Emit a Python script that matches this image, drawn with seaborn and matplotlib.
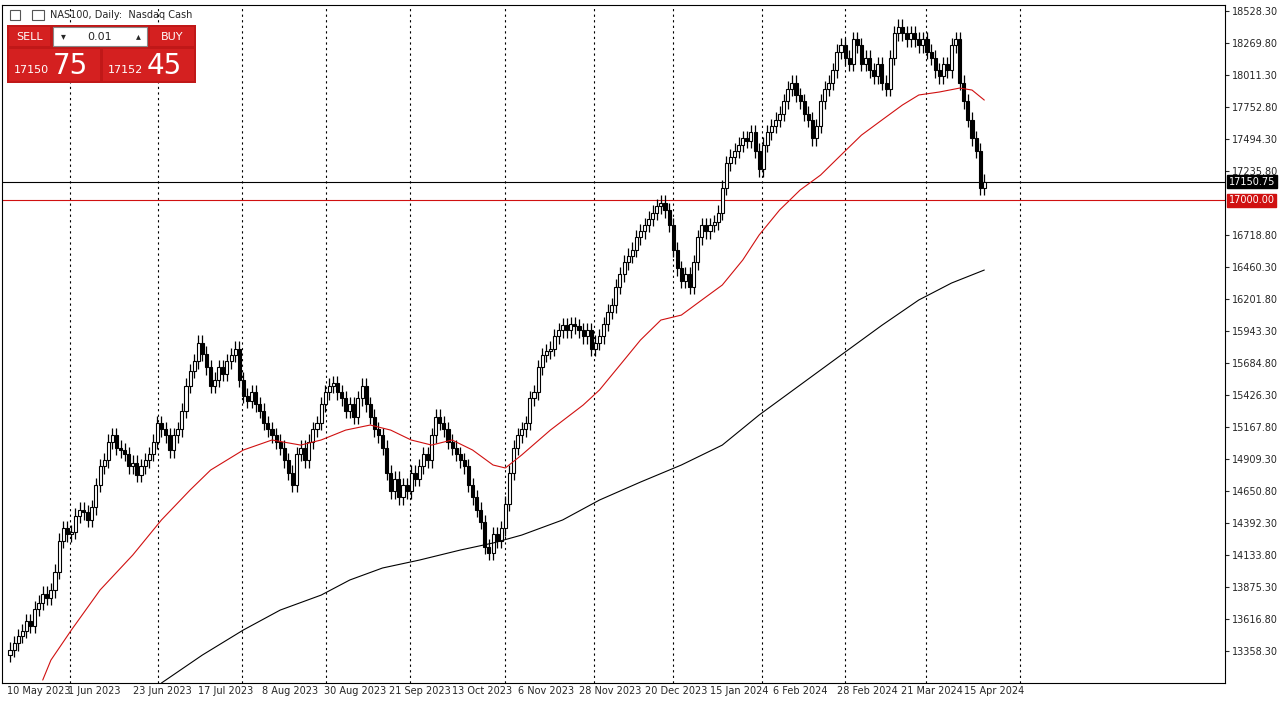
import numpy as np
import matplotlib
matplotlib.use("Agg")
import matplotlib.pyplot as plt
from matplotlib.patches import Rectangle
import seaborn as sns

closes = [13370,13420,13480,13520,13600,13560,13700,13750,13820,13790,
13850,14000,14250,14350,14300,14320,14450,14500,14480,14420,
14520,14700,14850,14900,15050,15100,15000,14980,14950,14850,
14880,14780,14850,14900,14950,15050,15200,15150,15100,14980,
15100,15150,15300,15500,15620,15700,15850,15760,15650,15500,
15550,15650,15600,15700,15750,15800,15550,15420,15380,15450,
15350,15300,15200,15150,15100,15050,15000,14900,14800,14700,
14950,15000,14900,15050,15150,15200,15350,15450,15500,15520,
15450,15400,15300,15350,15250,15400,15500,15350,15250,15150,
15100,15000,14800,14650,14750,14600,14700,14650,14800,14750,
14850,14950,14900,15100,15250,15200,15150,15050,15000,14950,
14900,14850,14700,14600,14500,14400,14200,14150,14300,14250,
14350,14550,14800,15000,15100,15150,15200,15400,15450,15650,
15750,15780,15800,15900,15950,15990,15950,16000,15980,15950,
15900,15950,15800,15850,15900,16000,16100,16150,16300,16400,
16500,16550,16600,16700,16750,16800,16850,16900,16950,16980,
16920,16800,16600,16450,16350,16400,16300,16500,16700,16800,
16750,16800,16820,16900,17100,17300,17350,17400,17450,17500,
17480,17550,17400,17250,17450,17550,17600,17650,17700,17800,
17900,17950,17850,17800,17700,17650,17500,17600,17800,17900,
17950,18050,18200,18250,18150,18100,18300,18250,18100,18150,
18050,18000,18100,17950,17900,18150,18350,18400,18350,18300,
18350,18300,18250,18300,18200,18150,18050,18000,18100,18050,
18250,18300,17950,17800,17650,17500,17400,17100,17150.75]
first_open = 13330

ma_red_idx = [8,10,15,22,30,37,44,49,57,64,71,76,82,88,93,98,103,108,113,118,121,125,132,140,144,149,154,159,164,169,174,179,183,188,193,198,203,208,213,218,222,227,232,235,238]
ma_red_val = [13124,13285,13528,13851,14134,14417,14659,14820,14982,15063,15022,15063,15143,15184,15143,15063,15022,15063,14982,14861,14837,14942,15143,15345,15467,15668,15870,16032,16072,16194,16315,16517,16719,16921,17082,17203,17365,17526,17648,17769,17850,17874,17906,17890,17809]
ma_blk_idx = [37,47,57,66,76,83,91,100,110,118,125,135,144,154,164,174,183,193,203,213,222,230,238]
ma_blk_val = [13100,13326,13528,13689,13810,13932,14029,14093,14174,14231,14295,14417,14578,14723,14861,15022,15265,15507,15749,15990,16194,16331,16436]

yticks = [18528.30,18269.80,18011.30,17752.80,17494.30,17235.80,16718.80,16460.30,16201.80,15943.30,15684.80,15426.30,15167.80,14909.30,14650.80,14392.30,14133.80,13875.30,13616.80,13358.30]
date_labels = ["10 May 2023","1 Jun 2023","23 Jun 2023","17 Jul 2023","8 Aug 2023","30 Aug 2023","21 Sep 2023","13 Oct 2023","6 Nov 2023","28 Nov 2023","20 Dec 2023","15 Jan 2024","6 Feb 2024","28 Feb 2024","21 Mar 2024","15 Apr 2024"]
date_idx = [-0.8,14.1,30,45.9,61.5,76.8,92.7,108,124,139,155,171,186.5,202,217.6,233]
month_sep_idx = [14.6,36.1,56.6,77.1,97.8,121,142.7,162,183.7,204,223.7,246.8]
bid, ask = 17150.75, 17152.45
level = 17000.00

sns.set_style("white")
plt.rcParams['font.family'] = ['DejaVu Sans']
W, H = 1285, 706
fig = plt.figure(figsize=(W/100, H/100), dpi=100)
ax = fig.add_axes([2/W, 1-683/H, 1223/W, 678/H])

opens = [first_open] + closes[:-1]
wick = 60
for i, (o, c) in enumerate(zip(opens, closes)):
    lo, hi = min(o, c), max(o, c)
    ax.vlines(i, lo - wick, hi + wick, color='black', lw=0.9, zorder=3)
    ax.bar(i, max(hi - lo, 4), bottom=lo, width=0.75,
           color='white' if c >= o else 'black', edgecolor='black', lw=0.8, zorder=4)

sns.lineplot(x=ma_red_idx, y=ma_red_val, ax=ax, color='#d01010', lw=0.8, zorder=5)
sns.lineplot(x=ma_blk_idx, y=ma_blk_val, ax=ax, color='black', lw=0.8, zorder=5)

for m in month_sep_idx:
    ax.axvline(m, color='black', lw=0.8, ls=(0, (2, 3)), zorder=1)
ax.axhline(bid, color='black', lw=0.8, zorder=2)
ax.axhline(level, color='#d01010', lw=0.8, zorder=2)

ax.set_xlim(-1.95, 296.8)
ax.set_ylim(13100, 18577)
ax.yaxis.tick_right()
ax.set_yticks(yticks)
ax.set_yticklabels([f"{v:.2f}" for v in yticks], fontsize=7)
ax.tick_params(axis='y', length=3, pad=2)
ax.set_xticks([])
for s in ax.spines.values():
    s.set_color('black'); s.set_linewidth(0.8)
for lab, ix in zip(date_labels, date_idx):
    ax.text(ix, -0.005, lab, transform=ax.get_xaxis_transform(), ha='left', va='top', fontsize=7)

ax.text(1.003, bid, f"{bid:.2f}", transform=ax.get_yaxis_transform(), va='center', ha='left',
        fontsize=7, color='white', bbox=dict(boxstyle='square,pad=0.15', fc='black', ec='black'))
ax.text(1.003, level, f"{level:.2f}", transform=ax.get_yaxis_transform(), va='center', ha='left',
        fontsize=7, color='white', bbox=dict(boxstyle='square,pad=0.15', fc='#d01010', ec='#d01010'))

def rect(x0, y0, x1, y1, fc, ec='none'):
    fig.add_artist(Rectangle((x0/W, 1-y1/H), (x1-x0)/W, (y1-y0)/H, transform=fig.transFigure, fc=fc, ec=ec, lw=0.8, zorder=10))
def ftext(x, y, s, **kw):
    fig.text(x/W, 1-y/H, s, zorder=11, **kw)

ftext(50, 15, "NAS100, Daily:  Nasdaq Cash", fontsize=7, va='center')
rect(10, 10, 20, 20, 'white', '#555'); rect(32, 10, 44, 20, 'white', '#555')
rect(7, 25, 196, 83, '#c01818')
rect(9, 27, 50, 46, '#d42020'); ftext(29.5, 36.5, "SELL", color='white', fontsize=8, ha='center', va='center')
rect(53, 27, 147, 46, 'white', '#888'); ftext(63, 36.5, "▾", fontsize=7, ha='center', va='center')
ftext(100, 36.5, "0.01", fontsize=8, ha='center', va='center'); ftext(138, 36.5, "▴", fontsize=7, ha='center', va='center')
rect(150, 27, 194, 46, '#d42020'); ftext(172, 36.5, "BUY", color='white', fontsize=8, ha='center', va='center')
rect(9, 49, 100, 81, '#d42020'); rect(103, 49, 194, 81, '#d42020')
ftext(14, 70, "17150", color='white', fontsize=8, va='center')
ftext(53, 66, "75", color='white', fontsize=20, va='center')
ftext(108, 70, "17152", color='white', fontsize=8, va='center')
ftext(147, 66, "45", color='white', fontsize=20, va='center')

fig.savefig("out.png", dpi=100)
